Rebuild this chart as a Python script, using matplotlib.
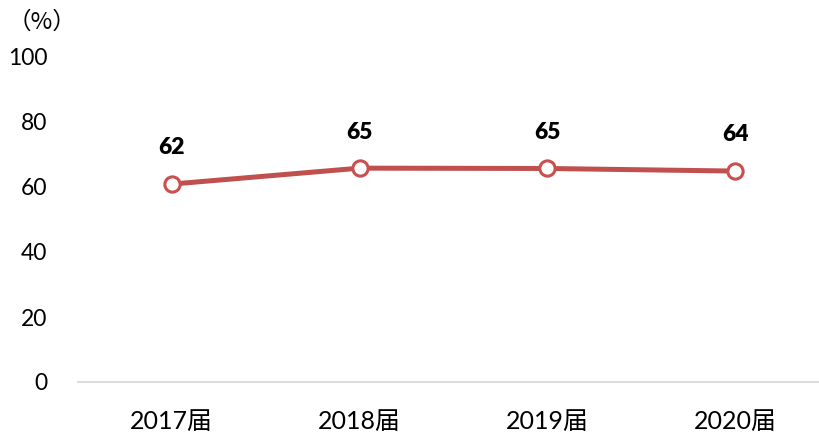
import matplotlib.pyplot as plt

# data
categories = ['2017届', '2018届', '2019届', '2020届']
values = [60.9, 65.8, 65.7, 64.9]
labels = ['62', '65', '65', '64']
yticks = [0, 20, 40, 60, 80, 100]

plt.rcParams['font.family'] = ['Lato', 'Noto Sans CJK SC', 'DejaVu Sans']

fig = plt.figure(figsize=(8.19, 4.34), dpi=100)
ax = fig.add_axes([78 / 819, 52 / 434, 1 - 78 / 819, 325 / 434])

x = range(len(categories))
ax.plot(x, values, color='#C0504D', linewidth=3.6, marker='o', markersize=11,
        markerfacecolor='white', markeredgecolor='#C9504F', markeredgewidth=2.2,
        solid_capstyle='round', zorder=3)

for xi, v, lab in zip(x, values, labels):
    ax.annotate(lab, (xi, v), xytext=(0, 26), textcoords='offset points',
                ha='center', va='center', fontsize=16.5, fontweight='heavy', color='black')

ax.set_xlim(-0.5, 3.447)
ax.set_ylim(0, 100)
ax.set_yticks(yticks)
ax.set_xticks(list(x))
ax.set_xticklabels(categories)
ax.tick_params(axis='y', length=0, labelsize=16.5, pad=22)
ax.tick_params(axis='x', length=0, labelsize=18, pad=20)

for s in ['top', 'right', 'left']:
    ax.spines[s].set_visible(False)
ax.spines['bottom'].set_color('#D9D9D9')
ax.spines['bottom'].set_linewidth(1.3)

fig.text(8 / 819, 1 - 22 / 434, '（%）', fontsize=17, va='center', ha='left',
         family=['Noto Sans CJK SC', 'DejaVu Sans'])

fig.savefig('out.png', dpi=100)
